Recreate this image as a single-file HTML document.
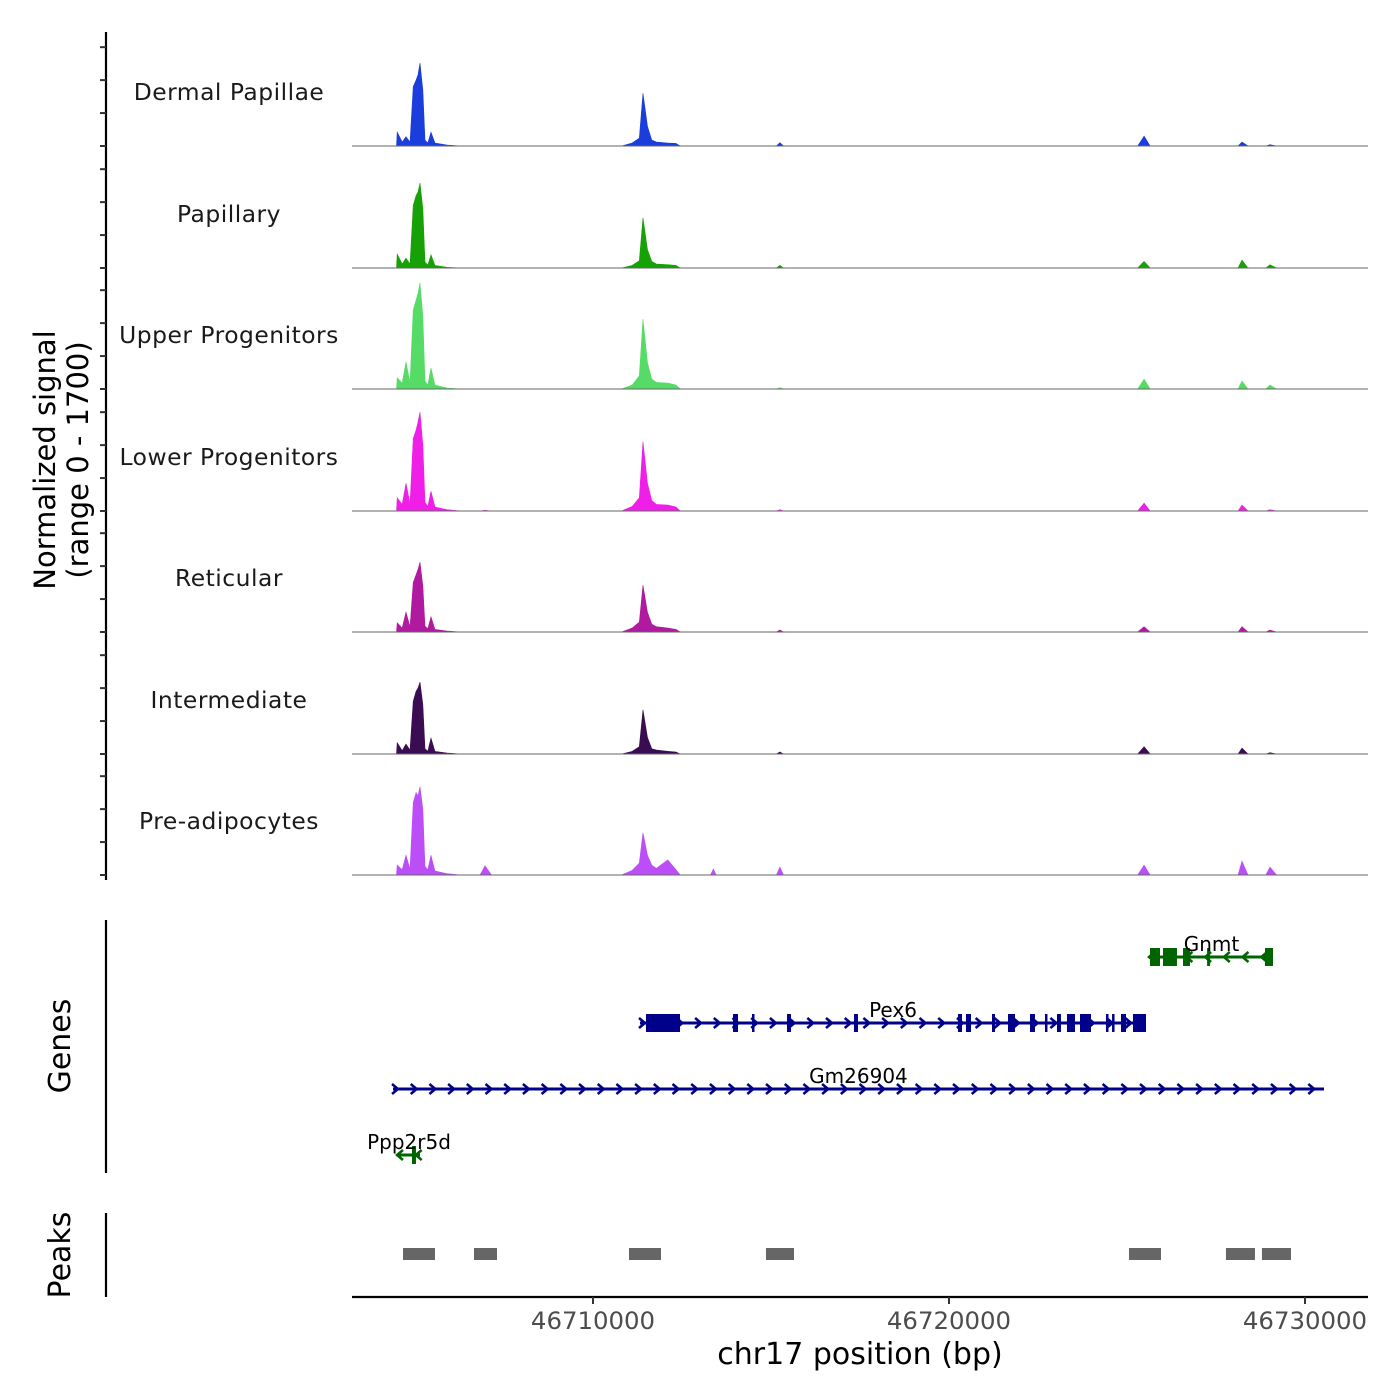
<!DOCTYPE html>
<html><head><meta charset="utf-8">
<style>
html,body{margin:0;padding:0;background:#fff;}
svg{display:block;font-family:"DejaVu Sans","Liberation Sans",sans-serif;}
</style></head>
<body>
<svg id="chart" width="1400" height="1400" viewBox="0 0 1400 1400">
<text x="60" y="460" font-size="29" text-anchor="middle" transform="rotate(-90 60 460)"><tspan x="60" dy="-5">Normalized signal</tspan><tspan x="60" dy="33">(range 0 - 1700)</tspan></text>
<text x="70" y="1046" font-size="30" text-anchor="middle" transform="rotate(-90 70 1046)">Genes</text>
<text x="70" y="1255" font-size="30" text-anchor="middle" transform="rotate(-90 70 1255)">Peaks</text>
<text x="860" y="1364" font-size="30" text-anchor="middle">chr17 position (bp)</text>
</svg>
<script>
const tracks = ["Dermal Papillae","Papillary","Upper Progenitors","Lower Progenitors","Reticular","Intermediate","Pre-adipocytes"];
const colors = ["#1a3ddb","#16a106","#56dc66","#f01fe8","#b01a9f","#3a0c52","#bb4ef6"];
const positions = [46704480,46704500,46704640,46704746,46704860,46704950,46705030,46705084,46705140,46705220,46705280,46705360,46705449,46705560,46705900,46706300,46706825,46706966,46707150,46710800,46711100,46711300,46711404,46711530,46711650,46711780,46712100,46712330,46712450,46713300,46713380,46713460,46715150,46715250,46715350,46725300,46725480,46725650,46728120,46728230,46728400,46728900,46729017,46729200];
const dermalPapillae = [0,210,60,140,60,900,1000,1080,1260,850,90,45,210,45,15,0,0,0,0,0,45,120,800,300,90,60,45,40,0,0,0,0,0,50,0,0,150,0,0,60,0,0,20,0];
const papillary = [0,210,60,150,60,950,1100,1150,1290,900,90,45,200,40,10,0,0,0,0,0,40,110,760,280,100,60,50,40,0,0,0,0,0,40,0,0,100,0,0,120,0,0,50,0];
const upperProgenitors = [0,170,90,410,100,1200,1350,1450,1610,1100,120,60,320,60,15,0,0,0,0,0,60,200,1060,400,150,100,90,60,0,0,0,0,0,20,0,0,150,0,0,120,0,0,60,0];
const lowerProgenitors = [0,200,100,420,110,1100,1230,1350,1500,1000,130,70,300,60,20,0,0,10,0,0,70,200,1050,420,160,100,90,60,0,0,0,0,0,20,0,0,120,0,0,90,0,0,20,0];
const reticular = [0,140,60,300,80,750,870,950,1060,700,90,50,230,40,15,0,0,0,0,0,60,150,710,300,120,80,60,40,0,0,0,0,0,30,0,0,80,0,0,80,0,0,30,0];
const intermediate = [0,170,50,150,60,800,950,1000,1090,750,80,40,240,40,15,0,0,0,0,0,40,110,670,250,80,60,40,30,0,0,0,0,0,30,0,0,110,0,0,90,0,0,20,0];
const preAdipocytes = [0,150,80,300,90,1100,1250,1200,1340,1000,130,80,300,60,20,0,0,140,0,0,70,180,640,300,150,100,230,80,0,0,90,0,0,120,0,0,150,0,0,210,0,0,120,0];
const seriesValues = [dermalPapillae,papillary,upperProgenitors,lowerProgenitors,reticular,intermediate,preAdipocytes];
const xTicks = [46710000,46720000,46730000];
const yTickValues = [0,500,1000,1500];
const geneNames = ["Gnmt","Pex6","Gm26904","Ppp2r5d"];
const geneStarts = [46725646,46711320,46704382,46704522];
const geneEnds = [46729101,46725534,46730533,46705140];
const geneStrands = [-1,1,1,-1];
const geneExons = [
 [[46725646,46725927],[46726011,46726404],[46726573,46726769],[46727250,46727334],[46728876,46729101]],
 [[46711488,46712444],[46713933,46714073],[46714466,46714522],[46715449,46715561],[46717331,46717443],[46720252,46720365],[46720477,46720618],[46721208,46721292],[46721657,46721854],[46722275,46722415],[46722696,46722752],[46723033,46723145],[46723314,46723539],[46723680,46723989],[46724410,46724470],[46724580,46724640],[46724831,46724972],[46725168,46725534]],
 [],
 [[46704915,46705027]]
];
const peakStarts = [46704663,46706657,46711011,46714859,46725056,46727780,46728791];
const peakEnds = [46705561,46707303,46711910,46715646,46725955,46728595,46729607];

const NS="http://www.w3.org/2000/svg";
const svg=document.getElementById('chart');
function mk(tag,attrs,parent){const e=document.createElementNS(NS,tag);for(const k in attrs)e.setAttribute(k,attrs[k]);(parent||svg).appendChild(e);return e;}
const X0=352,X1=1368,D0=46703230,D1=46731770;
function xs(bp){return X0+(bp-D0)/(D1-D0)*(X1-X0);}
const trackBase=[146,268,389,511,632,754,875];
const trackH=112, maxV=1700;
function ys(v,i){return trackBase[i]-v/maxV*trackH;}
const geneColorPlus="#00008b", geneColorMinus="#006400";
const geneY=[957,1023,1089,1155];

let ax=mk('line',{x1:106,y1:32,x2:106,y2:880,stroke:'#000','stroke-width':2.2});


for(let i=0;i<tracks.length;i++){
  for(const t of yTickValues){
    const y=ys(t,i);
    const tk=mk('line',{x1:100,y1:y,x2:106,y2:y,stroke:'#333','stroke-width':2});
    
    
  }
}
for(let i=0;i<tracks.length;i++){
  const g=mk('g',{});
  
  
  const vals=seriesValues[i];
  let d='M'+xs(positions[0])+','+trackBase[i];
  for(let j=0;j<positions.length;j++) d+=' L'+xs(positions[j]).toFixed(2)+','+ys(vals[j],i).toFixed(2);
  d+=' L'+xs(positions[positions.length-1])+','+trackBase[i]+' Z';
  const a=mk('path',{d:d,fill:colors[i],stroke:colors[i],'stroke-width':0.6},g);
  
  
  const bl=mk('line',{x1:X0,y1:trackBase[i],x2:X1,y2:trackBase[i],stroke:'#666','stroke-width':1},g);
  
  
  const lb=mk('text',{x:229,y:trackBase[i]-46,'font-size':23.4,'text-anchor':'middle',fill:'#1a1a1a','letter-spacing':'0.5'},g);
  lb.textContent=tracks[i];
  
  
}
const ga=mk('line',{x1:106,y1:920,x2:106,y2:1173,stroke:'#000','stroke-width':2.2});


for(let i=0;i<geneNames.length;i++){
  const col=geneStrands[i]>0?geneColorPlus:geneColorMinus;
  const g=mk('g',{});
  
  
  const y=geneY[i], xa=xs(geneStarts[i]), xb=xs(geneEnds[i]);
  mk('line',{x1:xa,y1:y,x2:xb,y2:y,stroke:col,'stroke-width':3},g);
  const step=18.7;
  for(let x=xa+2;x<=xb-1;x+=step){
    const s=geneStrands[i];
    mk('polyline',{points:`${x-3*s},${y-5} ${x+3*s},${y} ${x-3*s},${y+5}`,fill:'none',stroke:col,'stroke-width':2.5},g);
  }
  for(const ex of geneExons[i]){
    const e1=xs(ex[0]),e2=xs(ex[1]);
    mk('rect',{x:e1,y:y-9,width:Math.max(2.5,e2-e1),height:18,fill:col},g);
  }
  const lab=mk('text',{x:(xa+xb)/2,y:y-6,'font-size':20,'text-anchor':'middle',fill:'#000'},g);
  lab.textContent=geneNames[i];
}
const pa=mk('line',{x1:106,y1:1213,x2:106,y2:1297,stroke:'#000','stroke-width':2.2});


for(let i=0;i<peakStarts.length;i++){
  const r=mk('rect',{x:xs(peakStarts[i]),y:1248,width:xs(peakEnds[i])-xs(peakStarts[i]),height:12,fill:'#666'});
  
  
}
const xa=mk('line',{x1:X0,y1:1297,x2:X1,y2:1297,stroke:'#000','stroke-width':2.2});


for(const t of xTicks){
  const x=xs(t);
  const tk=mk('line',{x1:x,y1:1297,x2:x,y2:1304,stroke:'#333','stroke-width':2});
  
  
  const tl=mk('text',{x:x,y:1329,'font-size':24.4,'text-anchor':'middle',fill:'#4d4d4d'});
  tl.textContent=String(t);
  
  
}
</script>
</body></html>
